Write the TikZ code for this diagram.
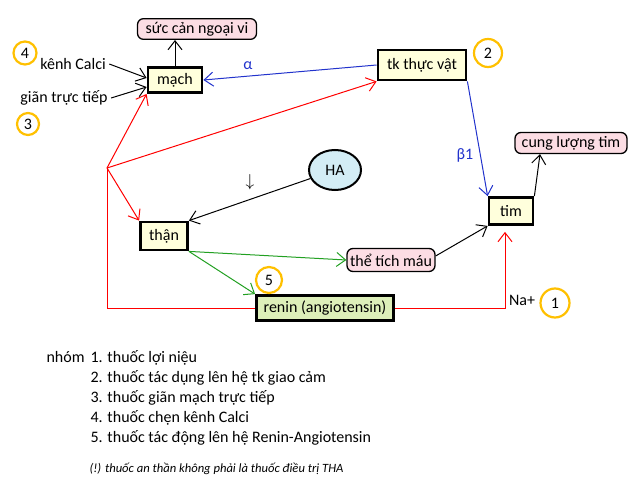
\documentclass[tikz,border=0pt]{standalone}
\usepackage{fontspec}
\setmainfont{Carlito}
\usepackage{tikz}
\usetikzlibrary{shapes, arrows.meta, positioning}
\definecolor{boxyellow}{HTML}{FFFFDC}
\definecolor{boxgreen}{HTML}{DDEFB9}
\definecolor{boxpink}{HTML}{FCDDE4}
\definecolor{haBlue}{HTML}{D3EDF5}
\definecolor{ringorange}{HTML}{FFC000}
\definecolor{lineblue}{HTML}{2233CC}
\definecolor{linegreen}{HTML}{22A022}
\tikzstyle{block} = [rectangle, draw, line width = 2.8pt, fill = boxyellow, minimum height = 26pt, inner sep = 2pt]
\tikzstyle{effect} = [rectangle, draw, line width = 1.3pt, fill = boxpink, rounded corners = 6pt, minimum height = 20pt, inner xsep = 3pt]
\tikzstyle{ring} = [circle, draw = ringorange, line width = 2.2pt, inner sep = 0pt]
\tikzstyle{line2} = [draw, line width = 1pt, -{Straight Barb[length = 9pt, width = 14pt]}]
\tikzstyle{line} = [draw, line width = 1pt]

\begin{document}
\begin{tikzpicture}[x = 1pt, y = -1pt, font = \fontsize{16}{19}\selectfont]
			\useasboundingbox (0, 0) rectangle (640, 487);
			% Place nodes
			\node [effect, minimum width = 119pt] (resist) at (197, 29) {sức cản ngoại vi};
			\node [block, minimum width = 54pt, minimum height = 25pt] (mach) at (175, 80) {mạch};
			\node [block, minimum width = 88pt, minimum height = 30pt] (tk) at (422, 65) {tk thực vật};
			\node [ellipse, draw, line width = 2pt, fill = haBlue, minimum width = 52pt, minimum height = 40pt] (ha) at (335, 170) {HA};
			\node [block, minimum width = 47pt, minimum height = 28pt] (than) at (164, 236) {thận};
			\node [effect, minimum width = 88pt, minimum height = 23pt] (volume) at (391, 260) {thể tích máu};
			\node [block, fill = boxgreen, minimum width = 137pt, minimum height = 25pt] (renin) at (325, 308) {renin (angiotensin)};
			\node [block, minimum width = 44pt, minimum height = 27pt] (tim) at (511, 211) {tim};
			\node [effect, minimum width = 112pt, minimum height = 21pt] (output) at (571, 143) {cung lượng tim};
			
			\node (calci) at (73, 64) {kênh Calci};
			\node (direct) at (64, 98) {giãn trực tiếp};
			\node [text = lineblue] (alpha) at (248, 66) {α};
			\node [text = lineblue] (beta) at (465, 155) {β1};
			\node (down) at (250, 182) {$\downarrow$};
			\node (na) at (522, 300) {Na+};
			
			\node [ring, minimum size = 29pt] (g1) at (555, 303) {1};
			\node [ring, minimum size = 28pt] (g2) at (488, 53) {2};
			\node [ring, minimum size = 22pt] (g3) at (28, 124) {3};
			\node [ring, minimum size = 23pt] (g4) at (25, 53) {4};
			\node [ring, minimum size = 26pt] (g5) at (269, 280) {5};
			
			\coordinate (junc) at (107, 168);
			
			\node [anchor = base west] (nhom) at (43, 362) {nhóm};
			\node [anchor = base west, align = left, font = \fontsize{16}{20}\selectfont] (groups) at (87, 442) {1. thuốc lợi niệu\\2. thuốc tác dụng lên hệ tk giao cảm\\3. thuốc giãn mạch trực tiếp\\4. thuốc chẹn kênh Calci\\5. thuốc tác động lên hệ Renin-Angiotensin};
			\node [anchor = base west, font = \fontsize{12.6}{15}\selectfont\itshape] (note) at (86, 472) {(!) thuốc an thần không phải là thuốc điều trị THA};
			
			% Draw edges
			\path [line2] (mach.north) -- (mach.north |- resist.south);
			\path [line2] (calci.east) -- ([yshift = 2pt]mach.west);
			\path [line2] (direct.east) -- ([yshift = -7pt]mach.west);
			\path [line2, lineblue] (tk.west) -- (mach.east);
			\path [line2, lineblue] (tk.south east) -- (tim.north west);
			\path [line2] (ha) -- (than.north east);
			\path [line2, linegreen] (than.south east) -- (volume.west);
			\path [line2, linegreen] (than.south east) -- (renin.north west);
			\path [line2] ([yshift = 4pt]volume.east) -- (tim.south west);
			\path [line2] (tim.north east) -- ([xshift = -31pt]output.south);
			\path [line, red] (renin.west) -| (junc);
			\path [line2, red] (junc) -- (mach.south west);
			\path [line2, red] (junc) -- (tk.south west);
			\path [line2, red] (junc) -- (than.north west);
			\path [line2, red] (renin.east) -| ([xshift = -6pt, yshift = -6pt]tim.south);
		\end{tikzpicture}
\end{document}
